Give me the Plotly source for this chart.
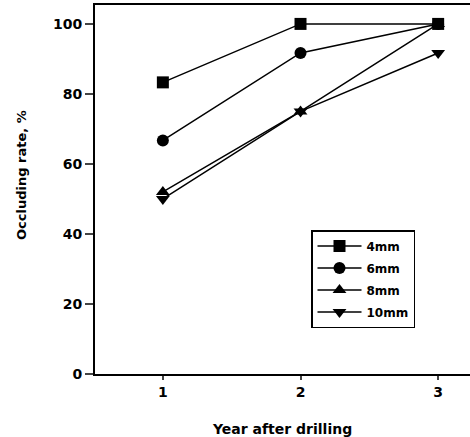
import plotly.graph_objects as go

years = [1, 2, 3]
series_names = ["4mm", "6mm", "8mm", "10mm"]
values_4mm = [83.3, 100, 100]
values_6mm = [66.7, 91.7, 100]
values_8mm = [52, 75, 100]
values_10mm = [50, 75, 91.7]
symbols = ["square", "circle", "triangle-up", "triangle-down"]
x_title = "Year after drilling"
y_title = "Occluding rate, %"

W, H = 480, 437
L, T, B = 95, 5, 63
PW, PH = W - L, H - T - B

FONT = "DejaVu Sans, Liberation Sans, Arial, sans-serif"
fig = go.Figure()
for name, vals, sym in zip(series_names, [values_4mm, values_6mm, values_8mm, values_10mm], symbols):
    fig.add_trace(go.Scatter(
        x=years, y=vals, name=name, mode="lines+markers", legendgroup=name,
        line=dict(color="black", width=1.5),
        marker=dict(symbol=sym, size=12, color="black"),
    ))

fig.update_layout(
    width=W, height=H,
    margin=dict(l=L, r=0, t=T, b=B),
    paper_bgcolor="white", plot_bgcolor="white",
    font=dict(family=FONT, size=14, color="black", weight="bold"),
    showlegend=True,
    legend=dict(
        x=(311 - L) / PW, y=(374 - 230) / PH, xanchor="left", yanchor="top",
        bordercolor="black", borderwidth=1.5, bgcolor="white",
        font=dict(family=FONT, size=12, color="black", weight="bold"),
        tracegroupgap=3, itemwidth=44,
    ),
    xaxis=dict(
        range=[0.507, 3.304], tickvals=[1, 2, 3], ticks="outside", ticklen=4,
        tickwidth=1.5, showline=True, linecolor="black", linewidth=2, mirror=True,
        showgrid=False, zeroline=False, automargin=False,
    ),
    yaxis=dict(
        range=[0, 105.4], tickvals=[0, 20, 40, 60, 80, 100], ticks="outside", ticklen=8,
        tickwidth=1.5, showline=True, linecolor="black", linewidth=2,
        showgrid=False, zeroline=False, automargin=False,
    ),
    annotations=[
        dict(text=x_title, xref="paper", yref="paper", x=(281.5 - L) / PW, y=(374 - 429) / PH,
             xanchor="center", yanchor="middle", showarrow=False,
             font=dict(family=FONT, size=14, weight="bold")),
        dict(text=y_title, xref="paper", yref="paper", x=(22 - L) / PW, y=(374 - 175) / PH,
             xanchor="center", yanchor="middle", showarrow=False, textangle=-90,
             font=dict(family=FONT, size=13, weight="bold")),
    ],
)
fig.write_html("out.html", config={"displayModeBar": False},
               post_script="document.body.style.margin='0';document.body.style.overflow='hidden';")
